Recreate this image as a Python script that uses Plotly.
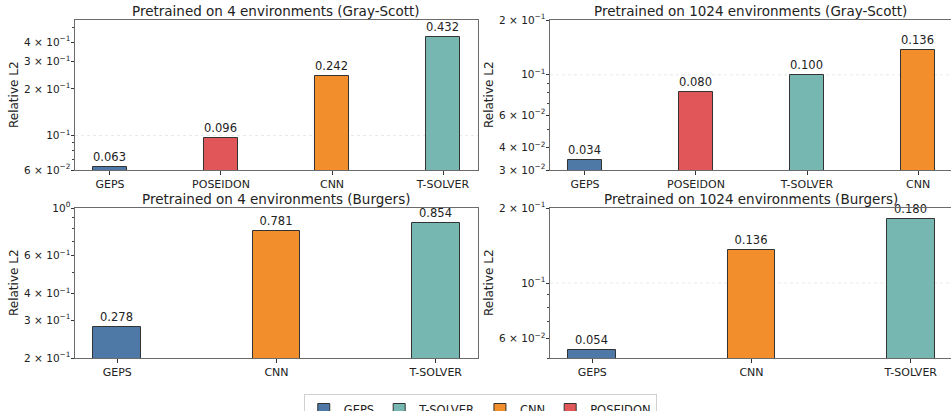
import plotly.graph_objects as go
import math

# ---------------- data ----------------
gs4_models = ["GEPS", "POSEIDON", "CNN", "T-SOLVER"]
gs4_values = [0.063, 0.096, 0.242, 0.432]

gs1024_models = ["GEPS", "POSEIDON", "T-SOLVER", "CNN"]
gs1024_values = [0.034, 0.080, 0.100, 0.136]

bg4_models = ["GEPS", "CNN", "T-SOLVER"]
bg4_values = [0.278, 0.781, 0.854]

bg1024_models = ["GEPS", "CNN", "T-SOLVER"]
bg1024_values = [0.054, 0.136, 0.180]

titles = [
    "Pretrained on 4 environments (Gray-Scott)",
    "Pretrained on 1024 environments (Gray-Scott)",
    "Pretrained on 4 environments (Burgers)",
    "Pretrained on 1024 environments (Burgers)",
]
y_title = "Relative L2"

# y tick labels (value, label)
tl_ticks = [(0.06, "6 × 10<sup>−2</sup>"), (0.1, "10<sup>−1</sup>"), (0.2, "2 × 10<sup>−1</sup>"),
            (0.3, "3 × 10<sup>−1</sup>"), (0.4, "4 × 10<sup>−1</sup>")]
tr_ticks = [(0.03, "3 × 10<sup>−2</sup>"), (0.04, "4 × 10<sup>−2</sup>"), (0.06, "6 × 10<sup>−2</sup>"),
            (0.1, "10<sup>−1</sup>"), (0.2, "2 × 10<sup>−1</sup>")]
bl_ticks = [(0.2, "2 × 10<sup>−1</sup>"), (0.3, "3 × 10<sup>−1</sup>"), (0.4, "4 × 10<sup>−1</sup>"),
            (0.6, "6 × 10<sup>−1</sup>"), (1.0, "10<sup>0</sup>")]
br_ticks = [(0.06, "6 × 10<sup>−2</sup>"), (0.1, "10<sup>−1</sup>"), (0.2, "2 × 10<sup>−1</sup>")]

minor_all = [k * 10.0 ** e for e in (-2, -1, 0) for k in range(1, 10)]

colors = {"GEPS": "#4e79a7", "T-SOLVER": "#76b7b2", "CNN": "#f28e2b", "POSEIDON": "#e15759"}
legend_order = ["GEPS", "T-SOLVER", "CNN", "POSEIDON"]

W = 951
H = 450  # figure taller than the 411px window; the legend runs past the bottom edge
FONT = "DejaVu Sans, Liberation Sans, sans-serif"

# layout geometry (pixels from top-left)
left_dom = [75 / W, 478 / W]
right_dom = [550 / W, 1.0]
top_dom = [1 - 170 / H, 1 - 20 / H]
bot_dom = [1 - 358 / H, 1 - 208 / H]

panels = [
    dict(models=gs4_models, vals=gs4_values, ticks=tl_ticks, yr=(0.06, 0.555), xd=left_dom, yd=top_dom, tx=14),
    dict(models=gs1024_models, vals=gs1024_values, ticks=tr_ticks, yr=(0.03, 0.2), xd=right_dom, yd=top_dom, tx=489),
    dict(models=bg4_models, vals=bg4_values, ticks=bl_ticks, yr=(0.2, 1.0), xd=left_dom, yd=bot_dom, tx=14),
    dict(models=bg1024_models, vals=bg1024_values, ticks=br_ticks, yr=(0.05, 0.2), xd=right_dom, yd=bot_dom, tx=489),
]

fig = go.Figure()
shown = set()
annotations = []
shapes = []

for i, p in enumerate(panels):
    n = i + 1
    xa = "x" if n == 1 else f"x{n}"
    ya = "y" if n == 1 else f"y{n}"
    nb = len(p["models"])
    half = 0.15 + 0.05 * (nb - 1 + 0.3)
    x0 = -half
    full_w = 2 * half + (nb - 1)
    px_per_unit = (478 - 75) / full_w
    width_px = (p["xd"][1] - p["xd"][0]) * W
    x1 = x0 + width_px / px_per_unit
    right_col = p["xd"] is right_dom

    lo, hi = p["yr"]
    if lo < 0.1 < hi:
        shapes.append(dict(type="line", xref=f"{xa} domain", yref=ya, x0=0, x1=1, y0=0.1, y1=0.1,
                           line=dict(color="#e3e3e3", width=0.8, dash="dot"), layer="below"))

    for j, (m, v) in enumerate(zip(p["models"], p["vals"])):
        fig.add_trace(go.Bar(
            x=[j], y=[v], width=0.3, name=m, legendgroup=m,
            showlegend=m not in shown, legendrank=legend_order.index(m) + 1,
            marker=dict(color=colors[m], line=dict(color="#333333", width=1)),
            texttemplate="%{y:.3f}", textposition="outside", cliponaxis=False,
            textfont=dict(size=11.5, color="#222222", family=FONT),
            xaxis=xa, yaxis=ya,
        ))
        shown.add(m)

    tv = [t[0] for t in p["ticks"]]
    tt = [t[1] for t in p["ticks"]]
    minor_vals = [mv for mv in minor_all if lo * 0.999 <= mv <= hi * 1.001 and all(abs(mv - t) > 1e-9 for t in tv)]

    axis_common = dict(showgrid=False, zeroline=False, showline=True, linecolor="#6b6b6b", linewidth=1,
                       ticks="outside", tickcolor="#333333", ticklen=3.5, tickwidth=0.8, automargin=False)
    fig.layout[("xaxis" if n == 1 else f"xaxis{n}")] = dict(
        axis_common, domain=p["xd"], anchor=ya, range=[x0, x1],
        tickmode="array", tickvals=list(range(nb)), ticktext=p["models"], mirror=True,
        tickfont=dict(size=11, color="#222222", family=FONT),
    )
    fig.layout[("yaxis" if n == 1 else f"yaxis{n}")] = dict(
        axis_common, domain=p["yd"], anchor=xa, type="log",
        range=[math.log10(lo), math.log10(hi)], tickmode="array", tickvals=tv, ticktext=tt,
        mirror=not right_col, ticklabelstandoff=-2,
        tickfont=dict(size=10.5, color="#222222", family=FONT),
        minor=dict(tickvals=minor_vals, ticks="outside", ticklen=2, tickcolor="#444444", tickwidth=0.6),
    )
    annotations.append(dict(
        text=titles[i], x=(p["xd"][0] + p["xd"][1]) / 2, y=p["yd"][1], xref="paper", yref="paper",
        xanchor="center", yanchor="bottom", showarrow=False, yshift=-1,
        font=dict(size=13.5, color="#222222", family=FONT),
    ))
    annotations.append(dict(
        text=y_title, x=p["tx"] / W, y=(p["yd"][0] + p["yd"][1]) / 2, xref="paper", yref="paper",
        xanchor="center", yanchor="middle", textangle=-90, showarrow=False,
        font=dict(size=12, color="#222222", family=FONT),
    ))

fig.update_layout(
    width=W, height=H, margin=dict(l=0, r=0, t=0, b=0, autoexpand=False),
    paper_bgcolor="white", plot_bgcolor="white",
    font=dict(family=FONT, size=12, color="#222222"),
    annotations=annotations, shapes=shapes,
    legend=dict(orientation="h", x=0.505, xanchor="center",
                y=1 - 394 / H, yanchor="top",
                bordercolor="#d0d0d0", borderwidth=1, font=dict(size=11.5, family=FONT, color="#222222"),
                itemwidth=30),
    bargap=0, showlegend=True,
)

fig.write_html("out.html", config={"displayModeBar": False},
               post_script="document.body.style.margin='0';document.body.style.overflow='hidden';")
